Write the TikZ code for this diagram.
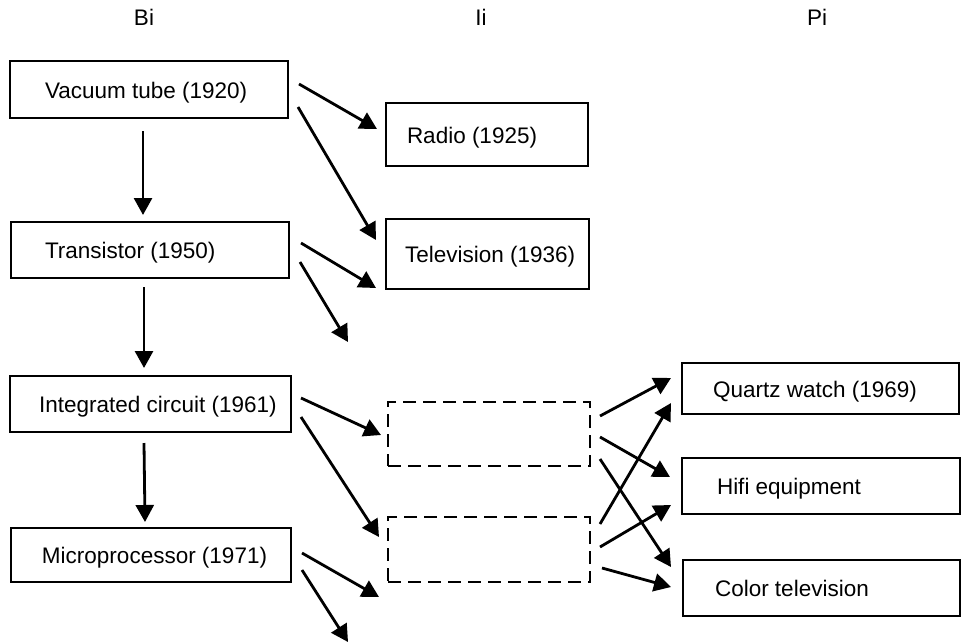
\documentclass[tikz,border=0pt]{standalone}
\usepackage{fontspec}
\setmainfont{Liberation Sans}
\usetikzlibrary{arrows.meta}
% box content: fixed width, text left-aligned after an indent
\newcommand\bxt[3]{\makebox[#1][l]{\hspace*{#2}#3}}
\begin{document}
\begin{tikzpicture}[x=1pt,y=-1pt,
  every node/.style={font=\fontsize{22.5}{27}\selectfont},
  solidbox/.style={draw,line width=2pt,inner sep=0pt,text height=17pt,text depth=0pt},
  dashbox/.style={draw,line width=2pt,dash pattern=on 13pt off 7pt,inner sep=0pt},
  flow/.style={line width=2.8pt,-{Triangle[length=17pt,width=18pt]}},
  head/.style={inner sep=0pt}]
\useasboundingbox (0,0) rectangle (964,643);

% column headings
\node[head] (hb) at (144,17) {Bi};
\node[head] (hi) at (481,17) {Ii};
\node[head] (hp) at (817,17) {Pi};

% basic innovations
\node[solidbox,minimum height=57pt] (vac) at (149,89.5) {\bxt{278pt}{35pt}{Vacuum tube (1920)}};
\node[solidbox,minimum height=56pt] (tra) at (150,250)  {\bxt{278pt}{34pt}{Transistor (1950)}};
\node[solidbox,minimum height=56pt] (ic)  at (150.5,404){\bxt{281pt}{29pt}{Integrated circuit (1961)}};
\node[solidbox,minimum height=54pt] (mic) at (151,555)  {\bxt{280pt}{31pt}{Microprocessor (1971)}};

% improvement innovations
\node[solidbox,minimum height=63pt] (radio) at (487,134.5) {\bxt{202pt}{21pt}{Radio (1925)}};
\node[solidbox,minimum height=70pt] (tv)    at (487.5,254) {\bxt{203pt}{19pt}{Television (1936)}};
\node[dashbox,minimum width=202pt,minimum height=64pt] (d1) at (489,434) {};
\node[dashbox,minimum width=202pt,minimum height=65pt] (d2) at (489,549.5) {};

% products
\node[solidbox,minimum height=51pt] (qw)   at (820.5,388.5) {\bxt{277pt}{31pt}{Quartz watch (1969)}};
\node[solidbox,minimum height=56pt] (hifi) at (821,486)     {\bxt{278pt}{35pt}{Hifi equipment}};
\node[solidbox,minimum height=56pt] (col)  at (821.5,588)   {\bxt{277pt}{32pt}{Color television}};

% open-ended arrow tips
\coordinate (trafree)  at (348,342);
\coordinate (micfreeA) at (379,597);
\coordinate (micfreeB) at (348,642);

% succession of basic innovations
\draw[flow] ([shift={(-6,12)}]vac.south) -- ([shift={(-7,-6)}]tra.north);
\draw[flow] ([shift={(-6,8)}]tra.south) -- ([shift={(-6.5,-7)}]ic.north);
\draw[flow] ([shift={(-6.5,10)}]ic.south) -- ([shift={(-6,-5)}]mic.north);

% basic -> improvement
\draw[flow] ([shift={(10,-5.5)}]vac.east) -- ([shift={(-8,-5.5)}]radio.west);
\draw[flow] ([shift={(9,17.5)}]vac.east) -- ([shift={(-9,-14)}]tv.west);
\draw[flow] ([shift={(11,-7)}]tra.east) -- ([shift={(-9,34)}]tv.west);
\draw[flow] ([shift={(10,12)}]tra.east) -- (trafree);
\draw[flow] ([shift={(9,-6)}]ic.east) -- ([shift={(-6,1)}]d1.west);
\draw[flow] ([shift={(9,13)}]ic.east) -- ([shift={(-8,-12.5)}]d2.west);
\draw[flow] ([shift={(10,-2)}]mic.east) -- (micfreeA);
\draw[flow] ([shift={(10,15)}]mic.east) -- (micfreeB);

% improvement -> products
\draw[flow] ([shift={(9,-18)}]d1.east) -- ([shift={(-10,-10.5)}]qw.west);
\draw[flow] ([shift={(9,3)}]d1.east) -- ([shift={(-11,-9)}]hifi.west);
\draw[flow] ([shift={(9,25)}]d1.east) -- ([shift={(-11,-21)}]col.west);
\draw[flow] ([shift={(9,-25.5)}]d2.east) -- ([shift={(-10,14.5)}]qw.west);
\draw[flow] ([shift={(9,-2.5)}]d2.east) -- ([shift={(-10,19)}]hifi.west);
\draw[flow] ([shift={(11,18.5)}]d2.east) -- ([shift={(-11,-1)}]col.west);
\end{tikzpicture}
\end{document}
